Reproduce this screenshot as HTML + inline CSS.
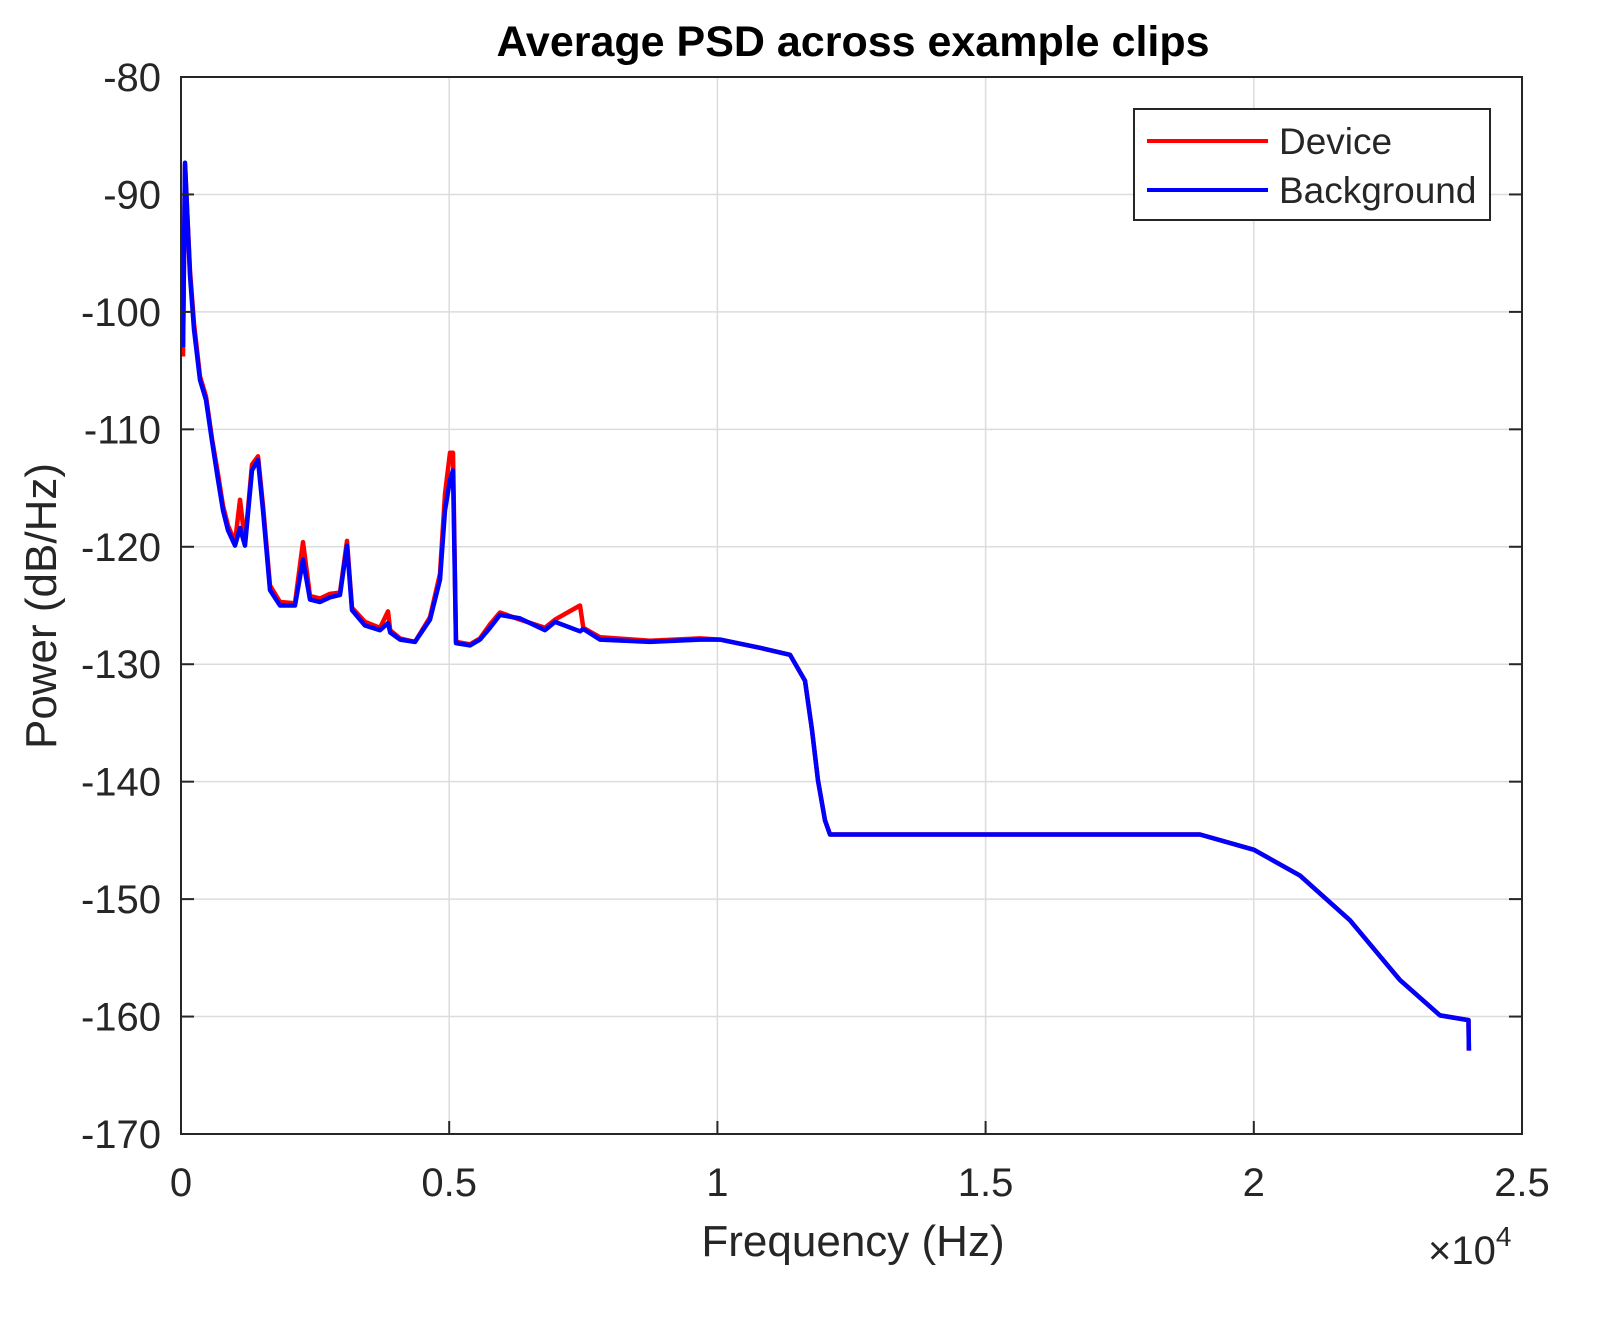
<!DOCTYPE html>
<html><head><meta charset="utf-8"><style>
body{margin:0;background:#fff}
svg text{font-family:"Liberation Sans",Arial,sans-serif}
</style></head><body>
<svg id="chart" width="1601" height="1318" viewBox="0 0 1601 1318">
<rect width="1601" height="1318" fill="#fff"/>
<g id="grid"></g>
<g id="series"></g>
<rect x="181" y="77" width="1341" height="1057" fill="none" stroke="#262626" stroke-width="2"/>
<g id="ticks"></g>
<text x="853" y="56" text-anchor="middle" font-size="43" font-weight="bold" fill="#000">Average PSD across example clips</text>
<text x="853" y="1256" text-anchor="middle" font-size="44" fill="#262626">Frequency (Hz)</text>
<text transform="translate(56,606) rotate(-90)" text-anchor="middle" font-size="44" fill="#262626">Power (dB/Hz)</text>
<text x="1428" y="1264" font-size="40" fill="#262626">×10<tspan dy="-18" font-size="28">4</tspan></text>
<g>
<rect x="1134" y="109" width="356" height="111" fill="#fff" stroke="#262626" stroke-width="2"/>
<line x1="1147" y1="141" x2="1268" y2="141" stroke="#ff0000" stroke-width="4"/>
<text x="1279" y="154" font-size="37" fill="#262626">Device</text>
<line x1="1147" y1="190" x2="1268" y2="190" stroke="#0000ff" stroke-width="4"/>
<text x="1279" y="203" font-size="37" fill="#262626">Background</text>
</g>
</svg>
<script>
const freqHz=[37,75,168,242,354,466,578,690,783,876,1007,1100,1193,1324,1436,1529,1659,1846,2125,2274,2405,2591,2778,2964,3095,3188,3430,3710,3859,3900,4083,4362,4642,4828,4922,5015,5071,5127,5388,5574,5761,5947,6320,6786,6972,7438,7500,7811,8743,9676,10048,10794,11353,11633,11764,11875,12006,12099,13404,18997,20004,20861,21794,22726,23471,24003,24010];
const backgroundDb=[-103,-87.3,-96.9,-101.5,-105.8,-107.5,-111,-114.3,-116.9,-118.6,-119.9,-118.4,-119.9,-113.5,-112.6,-116.9,-123.7,-125,-125,-121.1,-124.5,-124.7,-124.3,-124.1,-119.9,-125.4,-126.7,-127.1,-126.5,-127.3,-127.9,-128.1,-126.2,-122.8,-116.9,-114.3,-113.5,-128.2,-128.4,-127.9,-126.9,-125.8,-126.1,-127.1,-126.4,-127.2,-127.0,-127.9,-128.1,-127.9,-127.9,-128.6,-129.2,-131.4,-135.6,-139.9,-143.3,-144.5,-144.5,-144.5,-145.8,-148,-151.8,-156.9,-159.9,-160.3,-162.9];
const deviceDb=[-103.8,-87.5,-96.5,-101,-105.5,-107.2,-110.8,-113.8,-116.5,-118.2,-119.6,-116,-119.6,-113,-112.3,-116.5,-123.3,-124.7,-124.8,-119.6,-124.2,-124.4,-124,-123.9,-119.5,-125.2,-126.4,-126.9,-125.5,-127.1,-127.8,-128.1,-126,-122.3,-115.5,-112,-112,-128.1,-128.3,-127.8,-126.6,-125.6,-126.2,-126.9,-126.2,-125,-126.9,-127.7,-128,-127.8,-127.9,-128.6,-129.2,-131.4,-135.6,-139.9,-143.3,-144.5,-144.5,-144.5,-145.8,-148,-151.8,-156.9,-159.9,-160.3,-162.9];
const xTicks=[0,5000,10000,15000,20000,25000];
const xTickLabels=["0","0.5","1","1.5","2","2.5"];
const yTicks=[-80,-90,-100,-110,-120,-130,-140,-150,-160,-170];
const yTickLabels=["-80","-90","-100","-110","-120","-130","-140","-150","-160","-170"];

const L=181,R=1522,T=77,B=1134;
const xs=f=>L+(f-0)/25000*(R-L);
const ys=d=>T+(-80-d)/(-80+170)*(B-T);
const NS="http://www.w3.org/2000/svg";
const grid=document.getElementById('grid'),ticks=document.getElementById('ticks'),ser=document.getElementById('series');
function mk(tag,attrs,parent){const e=document.createElementNS(NS,tag);for(const k in attrs)e.setAttribute(k,attrs[k]);parent.appendChild(e);return e;}
xTicks.forEach((v,i)=>{
  const x=xs(v);
  if(i>0&&i<xTicks.length-1){const g=mk('line',{x1:x,y1:T,x2:x,y2:B,stroke:'#dcdcdc','stroke-width':1.5},grid);
  
  }
  const t=mk('line',{x1:x,y1:B,x2:x,y2:B-13,stroke:'#262626','stroke-width':2},ticks);
  
  
  const lb=mk('text',{x:x,y:B+62,'text-anchor':'middle','font-size':40,fill:'#262626'},ticks);
  lb.textContent=xTickLabels[i];
  
  
});
yTicks.forEach((v,i)=>{
  const y=ys(v);
  if(i>0&&i<yTicks.length-1){const g=mk('line',{x1:L,y1:y,x2:R,y2:y,stroke:'#dcdcdc','stroke-width':1.5},grid);
  
  }
  const t=mk('line',{x1:L,y1:y,x2:L+13,y2:y,stroke:'#262626','stroke-width':2},ticks);
  
  
  const t2=mk('line',{x1:R,y1:y,x2:R-13,y2:y,stroke:'#262626','stroke-width':2},ticks);
  
  
  const lb=mk('text',{x:L-20,y:y+14,'text-anchor':'end','font-size':40,fill:'#262626'},ticks);
  lb.textContent=yTickLabels[i];
  
  
});
function path(vals,color,name){
  const d=freqHz.map((f,i)=>(i?'L':'M')+xs(f).toFixed(1)+','+ys(vals[i]).toFixed(1)).join('');
  const p=mk('path',{d:d,fill:'none',stroke:color,'stroke-width':4.5,'stroke-linejoin':'round'},ser);
  
  
}
path(deviceDb,'#ff0000','device-line');
path(backgroundDb,'#0000ff','background-line');
</script>
</body></html>
